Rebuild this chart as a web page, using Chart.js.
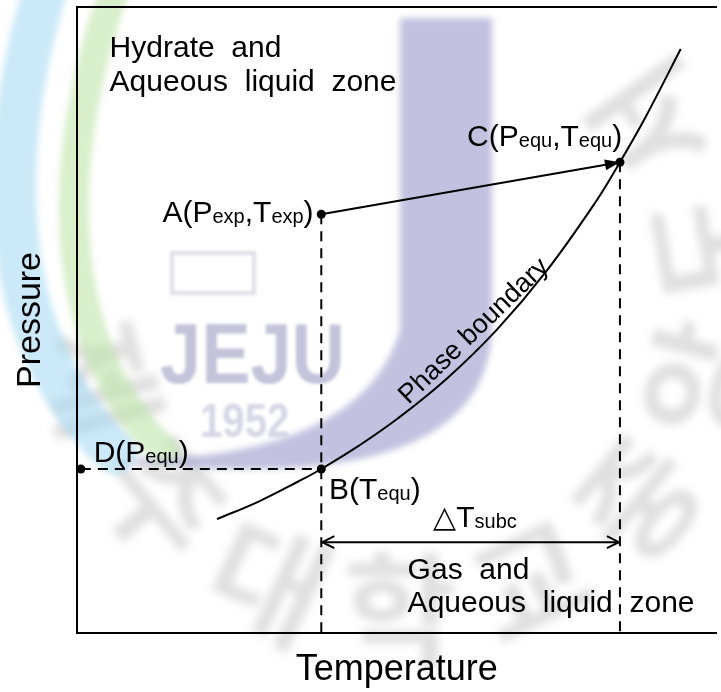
<!DOCTYPE html>
<html>
<head>
<meta charset="utf-8">
<script src="https://cdn.jsdelivr.net/npm/chart.js@4.4.1/dist/chart.umd.min.js"></script>
<style>
  html, body { margin: 0; padding: 0; background: #fff; overflow: hidden; }
  #wrap { width: 721px; height: 692px; position: relative; }
</style>
</head>
<body>
<div id="wrap"><canvas id="c" width="721" height="692"></canvas></div>
<script>
// Hydrate phase boundary (temperature vs pressure, arbitrary units 0-100)
const boundaryT = [21.9, 28.4, 34.6, 38.2, 43.9, 50.2, 57.9, 65.7, 73.4, 81.2, 84.9, 89.0, 94.4];
const boundaryP = [18.2, 21.0, 24.2, 26.2, 29.8, 34.3, 40.7, 48.5, 57.8, 69.0, 75.2, 82.6, 93.3];

// State points A (experiment), B and C (on the boundary), D (pressure axis)
const pointNames = ['A', 'B', 'C', 'D'];
const pointT = [38.2, 38.2, 84.9, 0.6];
const pointP = [66.9, 26.2, 75.2, 26.2];

// Subcooling span ΔT between T at B and T at C, drawn at this pressure
const subcoolP = 14.5;

// Axis titles
const axisTitleT = 'Temperature';
const axisTitleP = 'Pressure';

const FONT = "'Liberation Sans', Arial, Helvetica, sans-serif";
const pt = (name) => {
  const i = pointNames.indexOf(name);
  return { x: pointT[i], y: pointP[i] };
};
const A = pt('A'), B = pt('B'), C = pt('C'), D = pt('D');

// Annotation texts; "_{...}" marks a subscript
const notes = [
  { text: 'Hydrate  and',               x: 5.1,  y: 92.0, align: 'left' },
  { text: 'Aqueous  liquid  zone',      x: 5.1,  y: 86.6, align: 'left' },
  { text: 'C(P_{equ},T_{equ})',         x: 61.0, y: 77.8, align: 'left' },
  { text: 'A(P_{exp},T_{exp})',         x: 37.0, y: 65.7, align: 'right' },
  { text: 'D(P_{equ})',                 x: 2.6,  y: 27.3, align: 'left' },
  { text: 'B(T_{equ})',                 x: 39.4, y: 21.4, align: 'left' },
  { text: '\u25B3T_{subc}',             x: 55.7, y: 16.9, align: 'left' },
  { text: 'Gas  and',                   x: 51.7, y: 8.6,  align: 'left' },
  { text: 'Aqueous  liquid  zone',      x: 51.7, y: 3.4,  align: 'left' }
];
const curveLabel = { text: 'Phase boundary', x: 62.1, y: 48.2, angle: -44 };

// Seal lettering around the emblem
const sealChars = ['제', '주', '대', '학', '교', '중', '앙', '도', '서'];

function parseRich(s) {
  const parts = [];
  const re = /_\{([^}]*)\}/g;
  let last = 0, m;
  while ((m = re.exec(s)) !== null) {
    if (m.index > last) parts.push([s.slice(last, m.index), false]);
    parts.push([m[1], true]);
    last = re.lastIndex;
  }
  if (last < s.length) parts.push([s.slice(last), false]);
  return parts;
}

function drawRich(ctx, s, x, y, align, size) {
  const parts = parseRich(s);
  const main = size + 'px ' + FONT;
  const sub = Math.round(size * 0.66) + 'px ' + FONT;
  let w = 0;
  for (const [t, isSub] of parts) { ctx.font = isSub ? sub : main; w += ctx.measureText(t).width; }
  let cx = align === 'right' ? x - w : (align === 'center' ? x - w / 2 : x);
  for (const [t, isSub] of parts) {
    ctx.font = isSub ? sub : main;
    ctx.fillText(t, cx, y + (isSub ? 1 : 0));
    cx += ctx.measureText(t).width;
  }
}

// Faded university emblem behind the plot
const emblem = {
  id: 'emblem',
  beforeDraw(chart) {
    const ctx = chart.ctx;
    ctx.save();
    ctx.fillStyle = '#fff';
    ctx.fillRect(0, 0, chart.width, chart.height);

    // grey seal lettering on an arc
    ctx.filter = 'blur(4px)';
    ctx.fillStyle = 'rgba(0,0,0,0.12)';
    ctx.font = "bold 124px 'Noto Sans CJK KR', sans-serif";
    ctx.textAlign = 'center';
    ctx.textBaseline = 'middle';
    const angles = [165, 140, 115, 90, 65, 40, 15, -10, -35];
    sealChars.forEach((ch, i) => {
      const a = angles[i] * Math.PI / 180;
      ctx.save();
      ctx.translate(400 + 310 * Math.cos(a), 300 + 310 * Math.sin(a));
      ctx.rotate(a - Math.PI / 2);
      ctx.fillText(ch, 0, 0);
      ctx.restore();
    });
    ctx.textAlign = 'left';

    ctx.filter = 'blur(3px)';
    ctx.lineCap = 'round';
    // blue and green sweeps
    ctx.strokeStyle = 'rgba(160,215,242,0.55)';
    ctx.lineWidth = 44;
    ctx.beginPath(); ctx.moveTo(48, -20); ctx.bezierCurveTo(-5, 150, -5, 340, 115, 452); ctx.stroke();
    ctx.strokeStyle = 'rgba(190,228,170,0.6)';
    ctx.lineWidth = 30;
    ctx.beginPath(); ctx.moveTo(118, -20); ctx.bezierCurveTo(55, 150, 50, 340, 165, 452); ctx.stroke();
    // lavender J
    ctx.fillStyle = 'rgba(170,170,212,0.72)';
    ctx.beginPath();
    ctx.moveTo(400, 18); ctx.lineTo(492, 18); ctx.lineTo(492, 330);
    ctx.quadraticCurveTo(485, 505, 110, 460);
    ctx.quadraticCurveTo(360, 462, 400, 330);
    ctx.closePath(); ctx.fill();
    ctx.filter = 'blur(1.5px)';
    // emblem lettering
    ctx.fillStyle = 'rgba(175,175,205,0.75)';
    ctx.textBaseline = 'alphabetic';
    ctx.save();
    ctx.translate(160, 383); ctx.scale(0.86, 1);
    ctx.font = 'bold 86px ' + FONT;
    ctx.fillText('JEJU', 0, 0);
    ctx.restore();
    ctx.fillStyle = 'rgba(200,200,222,0.75)';
    ctx.save();
    ctx.translate(200, 437); ctx.scale(0.82, 1);
    ctx.font = 'bold 49px ' + FONT;
    ctx.fillText('1952', 0, 0);
    ctx.restore();
    ctx.strokeStyle = 'rgba(200,200,215,0.6)';
    ctx.lineWidth = 4;
    ctx.strokeRect(172, 253, 82, 40);
    ctx.restore();
  }
};

// Arrowheads and text annotations drawn over the data
const annotate = {
  id: 'annotate',
  afterDraw(chart) {
    const ctx = chart.ctx;
    const xs = chart.scales.x, ys = chart.scales.y;
    const px = (p) => ({ x: xs.getPixelForValue(p.x), y: ys.getPixelForValue(p.y) });
    ctx.save();
    ctx.fillStyle = '#000';
    ctx.strokeStyle = '#000';

    // filled head on the A -> C path
    const a = px(A), c = px(C);
    const ang = Math.atan2(c.y - a.y, c.x - a.x);
    ctx.beginPath();
    ctx.moveTo(c.x, c.y);
    ctx.lineTo(c.x - 15 * Math.cos(ang) + 5.5 * Math.sin(ang), c.y - 15 * Math.sin(ang) - 5.5 * Math.cos(ang));
    ctx.lineTo(c.x - 15 * Math.cos(ang) - 5.5 * Math.sin(ang), c.y - 15 * Math.sin(ang) + 5.5 * Math.cos(ang));
    ctx.closePath(); ctx.fill();

    // open heads on the ΔT span
    const l = px({ x: B.x, y: subcoolP }), r = px({ x: C.x, y: subcoolP });
    ctx.lineWidth = 2;
    ctx.beginPath();
    ctx.moveTo(l.x + 13, l.y - 6); ctx.lineTo(l.x + 1, l.y); ctx.lineTo(l.x + 13, l.y + 6);
    ctx.moveTo(r.x - 13, r.y - 6); ctx.lineTo(r.x - 1, r.y); ctx.lineTo(r.x - 13, r.y + 6);
    ctx.stroke();

    // zone and point labels
    ctx.textBaseline = 'alphabetic';
    for (const n of notes) {
      drawRich(ctx, n.text, xs.getPixelForValue(n.x), ys.getPixelForValue(n.y), n.align, 30);
    }

    // label along the boundary
    const lp = px(curveLabel);
    ctx.translate(lp.x, lp.y);
    ctx.rotate(curveLabel.angle * Math.PI / 180);
    ctx.font = '27px ' + FONT;
    ctx.textAlign = 'center';
    ctx.textBaseline = 'middle';
    ctx.fillText(curveLabel.text, 0, 0);
    ctx.restore();
  }
};

const line = (data, dash, extra) => Object.assign({
  data, showLine: true, borderColor: '#000', borderWidth: 2,
  borderDash: dash || [], pointRadius: 0, fill: false
}, extra || {});

const axisBase = {
  type: 'linear', min: 0, max: 100,
  ticks: { display: false },
  grid: { display: false, drawTicks: false },
  border: { display: true, color: '#000', width: 2 }
};

new Chart(document.getElementById('c'), {
  type: 'scatter',
  data: {
    datasets: [
      line(boundaryT.map((t, i) => ({ x: t, y: boundaryP[i] })), null, { tension: 0.4 }),
      line([A, C]),
      line([A, { x: A.x, y: 0 }], [10, 7]),
      line([C, { x: C.x, y: 0 }], [10, 7]),
      line([D, B], [10, 7]),
      line([{ x: B.x, y: subcoolP }, { x: C.x, y: subcoolP }]),
      { data: [A, B, C, D], showLine: false, pointRadius: 4.5, pointBackgroundColor: '#000',
        pointBorderColor: '#000', pointBorderWidth: 0 }
    ]
  },
  options: {
    responsive: false,
    animation: false,
    events: [],
    layout: { padding: 0 },
    plugins: { legend: { display: false }, tooltip: { enabled: false } },
    scales: {
      x: Object.assign({}, axisBase, {
        position: 'bottom',
        title: { display: true, text: axisTitleT, color: '#000', padding: 0,
                 font: { family: FONT, size: 36 } },
        afterFit(s) { s.height = 59; }
      }),
      y: Object.assign({}, axisBase, {
        position: 'left',
        title: { display: true, text: axisTitleP, color: '#000', padding: { top: 10, bottom: 0 },
                 font: { family: FONT, size: 34 } },
        afterFit(s) { s.width = 77; }
      }),
      xTop: Object.assign({}, axisBase, {
        position: 'top',
        afterFit(s) { s.height = 7; }
      })
    }
  },
  plugins: [emblem, annotate]
});
</script>
</body>
</html>
